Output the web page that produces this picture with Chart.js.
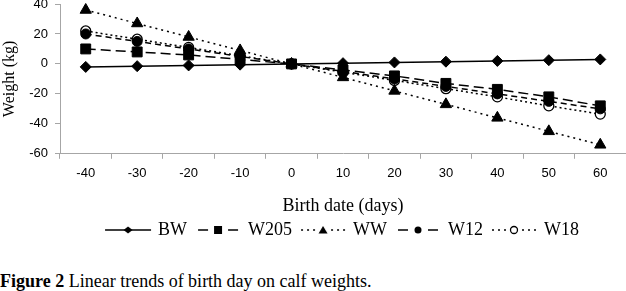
<!DOCTYPE html>
<html>
<head>
<meta charset="utf-8">
<script src="https://cdn.jsdelivr.net/npm/chart.js@4.4.1/dist/chart.umd.min.js"></script>
<style>
    body { margin: 0; background: #fff; }
    #wrap { position: relative; width: 626px; height: 291px; }
    #caption {
        position: absolute; left: 0; top: 271px;
        font-family: 'Liberation Serif', 'Times New Roman', serif;
        font-size: 18px; color: #000; white-space: nowrap;
    }
</style>
</head>
<body>
<div id="wrap">
    <canvas id="trendChart" width="626" height="249"></canvas>
    <div id="caption"><b>Figure 2</b> Linear trends of birth day on calf weights.</div>
</div>
<script>
// birth date categories (days)
const days = ['-40', '-30', '-20', '-10', '0', '10', '20', '30', '40', '50', '60'];

// weights (kg)
const bw   = [-2, -1.5, -1, -0.5, 0, 0.5, 1, 1.5, 2, 2.5, 3];
const w205 = [10, 8, 6, 3, 0, -4, -8, -13, -17, -22, -28];
const ww   = [36, 27, 18, 9, 0, -9, -18, -27, -36, -45, -54];
const w12  = [20, 15, 10, 5, 0, -5, -10, -15, -20, -25, -30];
const w18  = [22, 16.5, 11, 5.5, 0, -5.5, -11, -16.5, -22, -28, -33.5];

const yTicks = [-60, -40, -20, 0, 20, 40];

const serif = "'Liberation Serif', 'Times New Roman', serif";
const sans = "'Liberation Sans', Arial, sans-serif";

// legend sample: line pieces + marker in the middle, like the Excel legend
function makeSwatch(kind, marker, open) {
    const c = document.createElement('canvas');
    c.width = 48;
    c.height = 14;
    const g = c.getContext('2d');
    const x = 24, y = 7;
    g.strokeStyle = '#000';
    g.fillStyle = '#000';
    g.lineWidth = 1.5;
    g.beginPath();
    if (kind === 'solid') {
        g.moveTo(1, y); g.lineTo(47, y);
    } else if (kind === 'dash') {
        g.moveTo(4, y); g.lineTo(14, y);
        g.moveTo(34, y); g.lineTo(44, y);
    }
    g.stroke();
    if (kind === 'dot') {
        [3, 9, 15, 33, 39, 45].forEach(d => g.fillRect(d - 1, y - 0.75, 2, 1.5));
    }
    g.fillStyle = open ? '#fff' : '#000';
    g.beginPath();
    if (marker === 'diamond') {
        g.moveTo(x, y - 3.5); g.lineTo(x + 4.5, y); g.lineTo(x, y + 3.5); g.lineTo(x - 4.5, y);
    } else if (marker === 'square') {
        g.rect(x - 4, y - 4, 8, 8);
    } else if (marker === 'triangle') {
        g.moveTo(x, y - 4); g.lineTo(x + 4.5, y + 3.5); g.lineTo(x - 4.5, y + 3.5);
    } else {
        g.arc(x, y, 3.5, 0, Math.PI * 2);
    }
    g.closePath();
    g.fill();
    if (open) {
        g.lineWidth = 1.3;
        g.stroke();
    }
    return c;
}

const swatches = [
    makeSwatch('solid', 'diamond', false),
    makeSwatch('dash', 'square', false),
    makeSwatch('dot', 'triangle', false),
    makeSwatch('dash', 'circle', false),
    makeSwatch('dot', 'circle', true)
];

function series(label, data, dash, style, radius, open) {
    return {
        label: label,
        data: data,
        borderColor: '#000',
        borderWidth: 1.5,
        borderDash: dash,
        pointStyle: style,
        pointRadius: radius,
        pointHoverRadius: radius,
        pointBackgroundColor: open ? '#fff' : '#000',
        pointBorderColor: '#000',
        pointBorderWidth: open ? 1.3 : 1,
        fill: false,
        tension: 0
    };
}

// center the legend under the plot area, not the whole canvas
const legendUnderPlot = {
    id: 'legendUnderPlot',
    afterLayout(chart) {
        chart.legend.left = chart.chartArea.left;
        chart.legend.right = chart.chartArea.right;
    }
};

const ctx = document.getElementById('trendChart').getContext('2d');
const chart = new Chart(ctx, {
    type: 'line',
    data: {
        labels: days,
        datasets: [
            series('BW', bw, [], 'rectRot', 5.5, false),
            series('W205', w205, [10, 5], 'rect', 7, false),
            series('WW', ww, [2, 4], 'triangle', 6.5, false),
            series('W12', w12, [6, 4], 'circle', 5, false),
            series('W18', w18, [2, 3], 'circle', 5, true)
        ]
    },
    options: {
        responsive: false,
        animation: false,
        clip: false,
        layout: { autoPadding: false, padding: { top: 4, left: 0, right: 0, bottom: 0 } },
        scales: {
            x: {
                offset: true,
                grid: { display: true, drawOnChartArea: false, offset: true, tickLength: 5, color: '#a6a6a6' },
                border: { color: '#a6a6a6', width: 1 },
                ticks: { color: '#000', font: { family: sans, size: 13 }, padding: 7, maxRotation: 0 },
                title: {
                    display: true, text: 'Birth date (days)', color: '#000',
                    font: { family: serif, size: 18 }, padding: { top: 7, bottom: -6 }
                },
                afterFit: function(s) { s.paddingLeft = 0; s.paddingRight = 0; }
            },
            y: {
                min: -60,
                max: 40,
                afterBuildTicks: function(s) { s.ticks = yTicks.map(v => ({ value: v })); },
                grid: { display: true, drawOnChartArea: false, tickLength: 5, color: '#a6a6a6' },
                border: { color: '#a6a6a6', width: 1 },
                ticks: { color: '#000', font: { family: sans, size: 13, lineHeight: 0.6 }, padding: 7 },
                title: {
                    display: true, text: 'Weight (kg)', color: '#000',
                    font: { family: serif, size: 16 }, padding: { top: 0, bottom: 10 }
                },
                afterFit: function(s) { s.paddingTop = 0; s.paddingBottom = 0; s.width = 60; }
            }
        },
        plugins: {
            legend: {
                position: 'bottom',
                labels: {
                    color: '#000',
                    font: { family: serif, size: 18 },
                    usePointStyle: true,
                    pointStyleWidth: 42,
                    padding: 10,
                    generateLabels: function(chart) {
                        return chart.data.datasets.map((ds, i) => ({
                            text: ds.label,
                            pointStyle: swatches[i],
                            fillStyle: '#000',
                            strokeStyle: '#000',
                            lineWidth: 0,
                            fontColor: '#000',
                            hidden: false,
                            datasetIndex: i
                        }));
                    }
                }
            },
            tooltip: { enabled: false }
        }
    },
    plugins: [legendUnderPlot]
});
</script>
</body>
</html>
